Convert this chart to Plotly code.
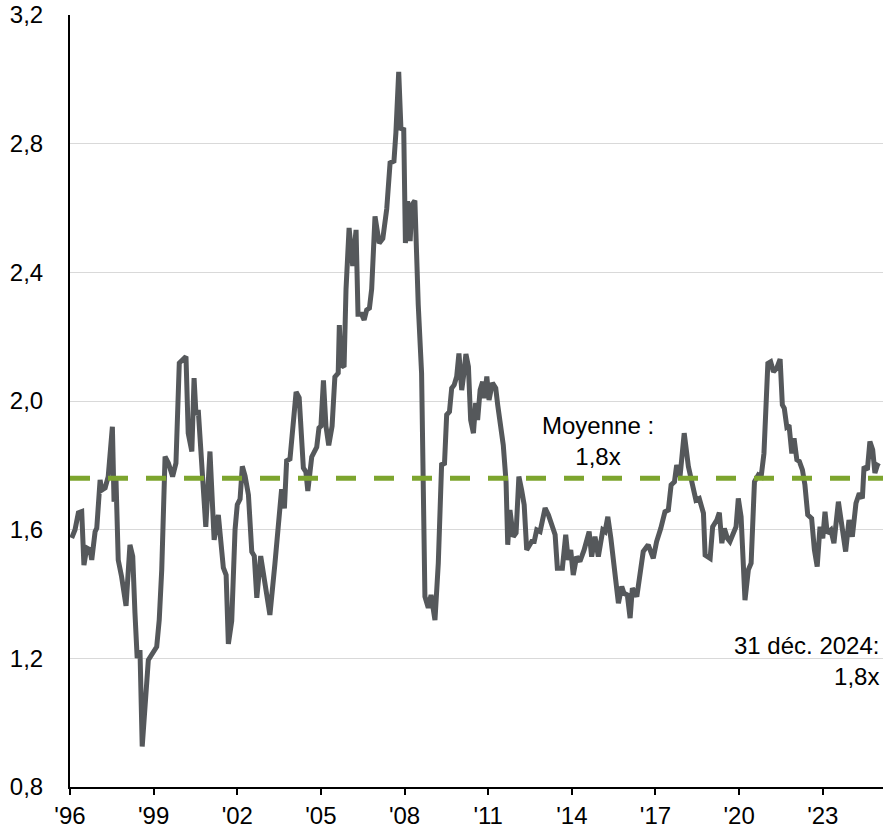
import plotly.graph_objects as go

# Decimal years and multiple values
years = [
    1996.06, 1996.18, 1996.30, 1996.42, 1996.50, 1996.60, 1996.72, 1996.78, 1996.90, 1996.96,
    1997.08, 1997.14, 1997.26, 1997.37, 1997.52, 1997.58, 1997.65, 1997.73, 1997.85, 1998.01,
    1998.15, 1998.25, 1998.33, 1998.41, 1998.51, 1998.59, 1998.81, 1999.11, 1999.20, 1999.29,
    1999.41, 1999.53, 1999.68, 1999.80, 1999.92, 2000.04, 2000.16, 2000.24, 2000.37, 2000.45,
    2000.52, 2000.60, 2000.72, 2000.87, 2001.02, 2001.17, 2001.32, 2001.50, 2001.60, 2001.68,
    2001.80, 2001.92, 2002.00, 2002.10, 2002.18, 2002.28, 2002.40, 2002.52, 2002.61, 2002.70,
    2002.84, 2002.96, 2003.17, 2003.35, 2003.53, 2003.59, 2003.69, 2003.77, 2003.89, 2004.11,
    2004.22, 2004.37, 2004.46, 2004.53, 2004.67, 2004.85, 2004.93, 2005.00, 2005.09, 2005.18,
    2005.28, 2005.40, 2005.50, 2005.62, 2005.66, 2005.72, 2005.83, 2005.90, 2006.01, 2006.14,
    2006.26, 2006.33, 2006.46, 2006.55, 2006.64, 2006.74, 2006.82, 2006.94, 2007.09, 2007.22,
    2007.36, 2007.48, 2007.62, 2007.69, 2007.79, 2007.87, 2007.97, 2008.03, 2008.11, 2008.20,
    2008.26, 2008.37, 2008.49, 2008.61, 2008.73, 2008.85, 2008.95, 2009.09, 2009.21, 2009.33,
    2009.43, 2009.51, 2009.61, 2009.69, 2009.78, 2009.87, 2009.95, 2010.05, 2010.13, 2010.20,
    2010.29, 2010.37, 2010.47, 2010.55, 2010.62, 2010.71, 2010.80, 2010.86, 2010.95, 2011.03,
    2011.15, 2011.27, 2011.34, 2011.54, 2011.64, 2011.70, 2011.78, 2011.90, 2012.00, 2012.10,
    2012.20, 2012.29, 2012.38, 2012.56, 2012.65, 2012.74, 2012.86, 2013.04, 2013.16, 2013.28,
    2013.40, 2013.48, 2013.66, 2013.78, 2013.87, 2013.96, 2014.05, 2014.17, 2014.29, 2014.44,
    2014.62, 2014.71, 2014.83, 2014.95, 2015.11, 2015.19, 2015.29, 2015.40, 2015.55, 2015.67,
    2015.79, 2015.87, 2015.99, 2016.09, 2016.17, 2016.33, 2016.56, 2016.74, 2016.92, 2017.04,
    2017.19, 2017.34, 2017.46, 2017.56, 2017.68, 2017.76, 2017.88, 2018.03, 2018.18, 2018.36,
    2018.45, 2018.57, 2018.72, 2018.78, 2018.96, 2019.05, 2019.20, 2019.29, 2019.38, 2019.47,
    2019.58, 2019.67, 2019.79, 2019.89, 2019.97, 2020.07, 2020.21, 2020.33, 2020.43, 2020.55,
    2020.69, 2020.79, 2020.89, 2021.03, 2021.13, 2021.23, 2021.35, 2021.47, 2021.55, 2021.62,
    2021.71, 2021.79, 2021.89, 2021.97, 2022.07, 2022.16, 2022.27, 2022.36, 2022.46, 2022.60,
    2022.70, 2022.80, 2022.90, 2023.00, 2023.08, 2023.16, 2023.29, 2023.40, 2023.56, 2023.68,
    2023.82, 2023.94, 2024.06, 2024.19, 2024.31, 2024.42, 2024.48, 2024.60, 2024.69, 2024.79,
    2024.87, 2024.96, 2025.00,
]

multiple = [
    1.574, 1.600, 1.652, 1.656, 1.490, 1.543, 1.537, 1.506, 1.594, 1.605,
    1.755, 1.723, 1.730, 1.765, 1.920, 1.687, 1.755, 1.506, 1.454, 1.363,
    1.553, 1.517, 1.341, 1.201, 1.226, 0.926, 1.195, 1.236, 1.319, 1.475,
    1.827, 1.807, 1.765, 1.807, 2.118, 2.128, 2.138, 1.900, 1.843, 2.071,
    1.957, 1.972, 1.827, 1.609, 1.843, 1.568, 1.646, 1.482, 1.459, 1.245,
    1.316, 1.600, 1.678, 1.695, 1.797, 1.767, 1.708, 1.531, 1.518, 1.388,
    1.518, 1.447, 1.335, 1.494, 1.661, 1.726, 1.666, 1.814, 1.820, 2.028,
    2.010, 1.792, 1.780, 1.720, 1.826, 1.857, 1.916, 1.922, 2.064, 1.922,
    1.862, 1.922, 2.075, 2.087, 2.236, 2.112, 2.106, 2.348, 2.538, 2.420,
    2.532, 2.270, 2.270, 2.252, 2.283, 2.289, 2.348, 2.574, 2.491, 2.505,
    2.597, 2.740, 2.746, 2.835, 3.023, 2.847, 2.844, 2.491, 2.621, 2.497,
    2.609, 2.623, 2.300, 2.087, 1.392, 1.357, 1.397, 1.319, 1.496, 1.807,
    1.801, 1.957, 1.967, 2.040, 2.050, 2.076, 2.148, 2.034, 2.087, 2.146,
    2.107, 1.941, 1.900, 1.994, 1.941, 2.034, 2.060, 2.009, 2.076, 2.003,
    2.056, 2.040, 1.988, 1.863, 1.749, 1.553, 1.661, 1.578, 1.590, 1.765,
    1.723, 1.677, 1.537, 1.563, 1.563, 1.599, 1.594, 1.667, 1.646, 1.609,
    1.584, 1.480, 1.480, 1.584, 1.506, 1.537, 1.459, 1.516, 1.501, 1.537,
    1.594, 1.516, 1.578, 1.516, 1.599, 1.594, 1.640, 1.573, 1.475, 1.371,
    1.423, 1.402, 1.397, 1.325, 1.418, 1.392, 1.532, 1.553, 1.511, 1.563,
    1.604, 1.656, 1.661, 1.739, 1.749, 1.801, 1.765, 1.900, 1.796, 1.723,
    1.692, 1.697, 1.651, 1.521, 1.511, 1.609, 1.630, 1.653, 1.558, 1.604,
    1.573, 1.563, 1.589, 1.609, 1.697, 1.640, 1.381, 1.475, 1.496, 1.749,
    1.770, 1.765, 1.837, 2.117, 2.122, 2.091, 2.102, 2.130, 1.988, 1.977,
    1.920, 1.925, 1.837, 1.884, 1.817, 1.812, 1.786, 1.739, 1.646, 1.635,
    1.537, 1.485, 1.609, 1.573, 1.656, 1.589, 1.599, 1.558, 1.687, 1.609,
    1.532, 1.630, 1.578, 1.682, 1.713, 1.697, 1.796, 1.786, 1.874, 1.848,
    1.776, 1.801, 1.807,
]

mean_value = 1.76
tick_years = [1996, 1999, 2002, 2005, 2008, 2011, 2014, 2017, 2020, 2023]
tick_labels = ["'96", "'99", "'02", "'05", "'08", "'11", "'14", "'17", "'20", "'23"]
y_ticks = [0.8, 1.2, 1.6, 2.0, 2.4, 2.8, 3.2]

FONT = "Liberation Sans, Arial, sans-serif"
FS = 24

fig = go.Figure()
fig.add_trace(go.Scatter(
    x=years, y=multiple, mode="lines",
    line=dict(color="#55585B", width=5),
    hoverinfo="skip", showlegend=False,
))
fig.add_trace(go.Scatter(
    x=[1996, 2025.16], y=[mean_value, mean_value], mode="lines",
    line=dict(color="#7DA52E", width=5, dash="20px,18px"),
    hoverinfo="skip", showlegend=False,
))

fig.add_annotation(
    x=2014.94, y=1.876, xref="x", yref="y",
    text="Moyenne :<br>1,8x", showarrow=False,
    font=dict(family=FONT, size=FS, color="#000000"), align="center",
)
fig.add_annotation(
    x=0.997, y=1.192, xref="paper", yref="y",
    text="31 déc. 2024:<br>1,8x", showarrow=False,
    xanchor="right", align="right",
    font=dict(family=FONT, size=FS, color="#000000"),
)

fig.update_layout(
    width=883, height=833,
    margin=dict(l=70, r=0, t=15, b=46),
    paper_bgcolor="white", plot_bgcolor="white",
    separators=",.",
    font=dict(family=FONT, size=FS, color="#000000"),
    xaxis=dict(
        range=[1996, 2025.16], tickmode="array", tickvals=tick_years, ticktext=tick_labels,
        showgrid=False, zeroline=False, showline=True, linecolor="#000000", linewidth=2,
        ticks="outside", ticklen=6, tickwidth=2, tickcolor="#000000",
        tickfont=dict(family=FONT, size=FS, color="#000000"),
    ),
    yaxis=dict(
        range=[0.8, 3.2], tickmode="array", tickvals=y_ticks, tickformat=".1f",
        showgrid=True, gridcolor="#D9D9D9", gridwidth=1,
        zeroline=False, showline=True, linecolor="#000000", linewidth=2,
        ticks="", ticklabelstandoff=20,
        tickfont=dict(family=FONT, size=FS, color="#000000"),
    ),
)

fig.write_html(
    "out.html",
    config={"displayModeBar": False, "staticPlot": True},
    post_script="document.body.style.margin='0';document.body.style.overflow='hidden';",
)
